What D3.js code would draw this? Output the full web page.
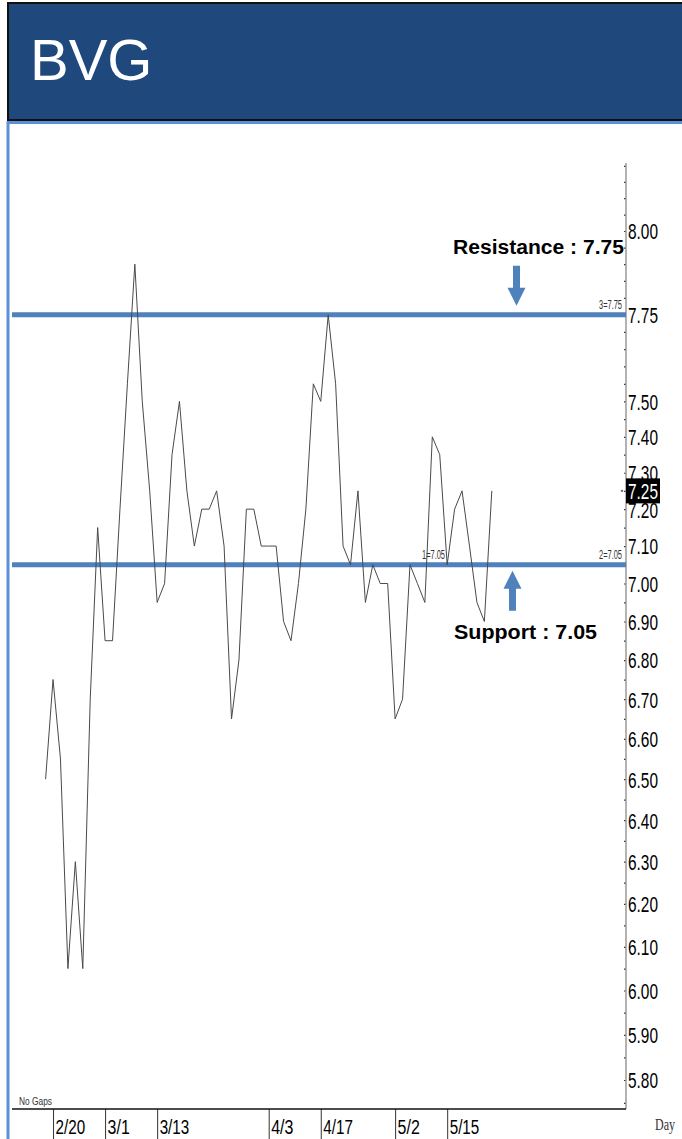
<!DOCTYPE html>
<html>
<head>
<meta charset="utf-8">
<script src="https://cdn.jsdelivr.net/npm/d3@7"></script>
<style>
  html, body { margin: 0; padding: 0; background: #fff; }
  svg { display: block; }
</style>
</head>
<body>
<div id="chart"></div>
<script>
// BVG daily close — support / resistance chart

const ticker = "BVG";
// one close per trading day, starting the session before 2/20
const closes = [
  6.50, 6.75, 6.55, 6.05, 6.30, 6.05, 6.70, 7.15, 6.85, 6.85,
  7.20, 7.55, 7.90, 7.50, 7.25, 6.95, 7.00, 7.35, 7.50, 7.25,
  7.10, 7.20, 7.20, 7.25, 7.10, 6.65, 6.80, 7.20, 7.20, 7.10,
  7.10, 7.10, 6.90, 6.85, 7.00, 7.20, 7.55, 7.50, 7.75, 7.55,
  7.10, 7.05, 7.25, 6.95, 7.05, 7.00, 7.00, 6.65, 6.70, 7.05,
  7.00, 6.95, 7.40, 7.35, 7.05, 7.20, 7.25, 7.10, 6.95, 6.90,
  7.25
];
const dateTickIdx = [1, 8, 15, 30, 37, 47, 54];
const dateTickLabels = ["2/20", "3/1", "3/13", "4/3", "4/17", "5/2", "5/15"];
const priceTicks = [8.00, 7.75, 7.50, 7.40, 7.30, 7.20, 7.10, 7.00, 6.90, 6.80,
  6.70, 6.60, 6.50, 6.40, 6.30, 6.20, 6.10, 6.00, 5.90, 5.80];
const levels = [
  { name: "Resistance", value: 7.75, tag: "3=7.75" },
  { name: "Support", value: 7.05, tag: "2=7.05" }
];
const lastClose = closes[closes.length - 1];

const W = 682, H = 1139;
const plotLeft = 12, plotRight = 626, plotTop = 163, plotBottom = 1109;
const blue = "#4F81BD";
const narrow = "'Liberation Sans', Arial, sans-serif";

const svg = d3.select("#chart").append("svg")
  .attr("width", W).attr("height", H);

// header band
svg.append("rect")
  .attr("x", 8).attr("y", 3).attr("width", W).attr("height", 117)
  .attr("fill", "#1F497D").attr("stroke", "#111").attr("stroke-width", 2);
svg.append("text")
  .attr("x", 30).attr("y", 80)
  .attr("font-family", "'Liberation Sans', Arial, sans-serif")
  .attr("font-size", 58).attr("fill", "#fff")
  .text(ticker);
svg.append("line")
  .attr("x1", 8).attr("x2", W).attr("y1", 122.5).attr("y2", 122.5)
  .attr("stroke", "#5B8FD6").attr("stroke-width", 3);
svg.append("line")
  .attr("x1", 8).attr("x2", 8).attr("y1", 121).attr("y2", H)
  .attr("stroke", "#5B8FD6").attr("stroke-width", 3);

// scales
const x = d3.scaleLinear().domain([0, closes.length - 1]).range([45.6, 491.8]);
const y = d3.scaleLog().domain([5.7366, 8.2087]).range([plotBottom, plotTop]);

// price axis: dotted minor ticks + labels
const minor = d3.range(5.75, 8.21, 0.05);
svg.append("g")
  .attr("transform", `translate(${plotRight},0)`)
  .call(d3.axisLeft(y).tickValues(minor).tickSize(2).tickFormat(""))
  .call(g => g.select(".domain").remove())
  .call(g => g.selectAll(".tick line").attr("stroke", "#333").attr("stroke-width", 1.2));
svg.append("line")
  .attr("x1", plotRight).attr("x2", plotRight).attr("y1", plotTop).attr("y2", plotBottom)
  .attr("stroke", "#9a9a9a").attr("stroke-width", 1.5);

const yAxis = svg.append("g")
  .attr("transform", `translate(${plotRight},0)`)
  .call(d3.axisRight(y).tickValues(priceTicks).tickSize(0).tickPadding(2)
    .tickFormat(d3.format(".2f")));
yAxis.select(".domain").remove();
yAxis.selectAll(".tick text")
  .attr("font-family", narrow).attr("font-size", 22).attr("fill", "#000")
  .attr("dy", "0.36em")
  .attr("textLength", 30).attr("lengthAdjust", "spacingAndGlyphs");

// date axis
const xAxis = svg.append("g")
  .attr("transform", `translate(0,${plotBottom})`)
  .call(d3.axisBottom(x).tickValues(dateTickIdx).tickSize(30).tickPadding(0)
    .tickFormat((d, i) => dateTickLabels[i]));
xAxis.select(".domain").remove();
xAxis.selectAll(".tick line").attr("stroke", "#333").attr("stroke-width", 1);
xAxis.selectAll(".tick text")
  .attr("text-anchor", "start").attr("x", 2).attr("y", 25).attr("dy", 0)
  .attr("font-family", narrow).attr("font-size", 20).attr("fill", "#000")
  .attr("textLength", function () { return this.textContent.length * 7.4; })
  .attr("lengthAdjust", "spacingAndGlyphs");

// bottom frame
svg.append("line")
  .attr("x1", plotLeft).attr("x2", plotRight).attr("y1", plotBottom).attr("y2", plotBottom)
  .attr("stroke", "#111").attr("stroke-width", 1.5);

// support / resistance levels
svg.append("g").selectAll("line").data(levels).join("line")
  .attr("x1", plotLeft).attr("x2", plotRight)
  .attr("y1", d => y(d.value)).attr("y2", d => y(d.value))
  .attr("stroke", blue).attr("stroke-width", 5);
svg.append("g").selectAll("text").data(levels).join("text")
  .attr("x", plotRight - 4).attr("y", d => y(d.value) - 6)
  .attr("text-anchor", "end")
  .attr("font-family", narrow).attr("font-size", 12).attr("fill", "#333")
  .attr("textLength", 23).attr("lengthAdjust", "spacingAndGlyphs")
  .text(d => d.tag);
svg.append("text")
  .attr("x", 445).attr("y", y(7.05) - 6)
  .attr("text-anchor", "end")
  .attr("font-family", narrow).attr("font-size", 12).attr("fill", "#333")
  .attr("textLength", 23).attr("lengthAdjust", "spacingAndGlyphs")
  .text("1=7.05");

// price line
const line = d3.line().x((d, i) => x(i)).y(d => y(d));
svg.append("path")
  .datum(closes)
  .attr("fill", "none").attr("stroke", "#4a4a4a").attr("stroke-width", 1)
  .attr("d", line);

// annotations
svg.append("text")
  .attr("x", 453).attr("y", 254)
  .attr("font-family", "'Liberation Sans', Arial, sans-serif")
  .attr("font-weight", "bold").attr("font-size", 20).attr("fill", "#000")
  .attr("textLength", 171).attr("lengthAdjust", "spacingAndGlyphs")
  .text(`Resistance : ${levels[0].value.toFixed(2)}`);
svg.append("text")
  .attr("x", 454).attr("y", 639)
  .attr("font-family", "'Liberation Sans', Arial, sans-serif")
  .attr("font-weight", "bold").attr("font-size", 20).attr("fill", "#000")
  .attr("textLength", 143).attr("lengthAdjust", "spacingAndGlyphs")
  .text(`Support : ${levels[1].value.toFixed(2)}`);

// arrows (down to resistance, up to support)
const arrow = (cx, tipY, dir) => {
  // dir = 1 pointing down, -1 pointing up
  const headLen = 18, headHalf = 9, shaftHalf = 3.5, shaftLen = 22;
  const baseY = tipY - dir * headLen, endY = baseY - dir * shaftLen;
  return `M${cx - shaftHalf},${endY} L${cx + shaftHalf},${endY} L${cx + shaftHalf},${baseY}` +
    ` L${cx + headHalf},${baseY} L${cx},${tipY} L${cx - headHalf},${baseY} L${cx - shaftHalf},${baseY} Z`;
};
svg.append("path").attr("d", arrow(516.5, y(levels[0].value) - 9, 1)).attr("fill", blue);
svg.append("path").attr("d", arrow(512.5, y(levels[1].value) + 6, -1)).attr("fill", blue);

// last price marker
svg.append("rect")
  .attr("x", plotRight).attr("y", y(lastClose) - 12.5).attr("width", 34).attr("height", 25)
  .attr("fill", "#000");
svg.append("text")
  .attr("x", plotRight + 2).attr("y", y(lastClose) + 8)
  .attr("font-family", narrow).attr("font-size", 22).attr("fill", "#fff")
  .attr("textLength", 30).attr("lengthAdjust", "spacingAndGlyphs")
  .text(lastClose.toFixed(2));
svg.append("circle")
  .attr("cx", plotRight - 4).attr("cy", y(lastClose)).attr("r", 1.2).attr("fill", "#666");

// footer labels
svg.append("text")
  .attr("x", 19).attr("y", 1105)
  .attr("font-family", narrow).attr("font-size", 11).attr("fill", "#333")
  .attr("textLength", 33).attr("lengthAdjust", "spacingAndGlyphs")
  .text("No Gaps");
svg.append("text")
  .attr("x", 655).attr("y", 1130)
  .attr("font-family", "'Liberation Serif', 'Times New Roman', serif")
  .attr("font-size", 16).attr("fill", "#333")
  .attr("textLength", 20).attr("lengthAdjust", "spacingAndGlyphs")
  .text("Day");
</script>
</body>
</html>
